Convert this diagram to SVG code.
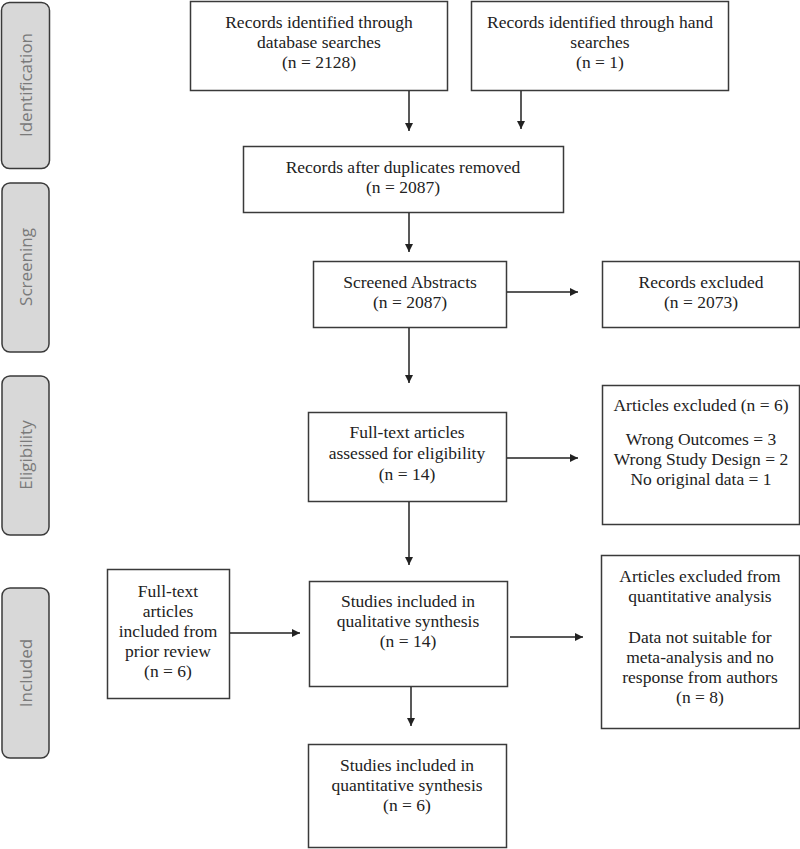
<svg xmlns="http://www.w3.org/2000/svg" width="800" height="849" viewBox="0 0 800 849">
<style>
.box{fill:#fff;stroke:#3a3a3a;stroke-width:1.5}
.side{fill:#d8d8d8;stroke:#3a3a3a;stroke-width:1.5}
.t{font-family:"Liberation Serif","Times New Roman",serif;font-size:17.5px;fill:#222;text-anchor:middle}
.s{font-family:"Open Sans","Noto Sans",sans-serif;font-size:17px;fill:#7a7a7a;text-anchor:middle}
.c{stroke:#222;stroke-width:1.5;fill:none;marker-end:url(#ah)}
</style>
<defs>
<marker id="ah" viewBox="0 0 10 10" refX="10" refY="5" markerWidth="8" markerHeight="8" markerUnits="userSpaceOnUse" orient="auto">
<path d="M0,0 L10,5 L0,10 z" fill="#222"/>
</marker>
</defs>
<rect width="800" height="849" fill="#fff"/>

<g id="side-identification"><rect class="side" x="1.5" y="2.5" width="48" height="166" rx="8"/><text class="s" transform="translate(32,85) rotate(-90)">Identification</text></g>
<g id="side-screening"><rect class="side" x="2" y="183" width="47" height="169" rx="8"/><text class="s" transform="translate(32,267) rotate(-90)">Screening</text></g>
<g id="side-eligibility"><rect class="side" x="2" y="376" width="47" height="159" rx="8"/><text class="s" transform="translate(32,455) rotate(-90)">Eligibility</text></g>
<g id="side-included"><rect class="side" x="2" y="588" width="47" height="170" rx="8"/><text class="s" transform="translate(32,673) rotate(-90)">Included</text></g>

<g id="db"><rect class="box" x="190.5" y="1.5" width="257" height="89"/>
<text class="t" x="319" y="28">Records identified through</text>
<text class="t" x="319" y="48">database searches</text>
<text class="t" x="319" y="68">(n = 2128)</text></g>

<g id="hand"><rect class="box" x="471.5" y="1.5" width="257" height="89"/>
<text class="t" x="600" y="28">Records identified through hand</text>
<text class="t" x="600" y="48">searches</text>
<text class="t" x="600" y="68">(n = 1)</text></g>

<g id="dup"><rect class="box" x="243.5" y="146.5" width="320" height="66"/>
<text class="t" x="403" y="173">Records after duplicates removed</text>
<text class="t" x="403" y="193">(n = 2087)</text></g>

<g id="screened"><rect class="box" x="313.5" y="261.5" width="193" height="66"/>
<text class="t" x="410" y="288">Screened Abstracts</text>
<text class="t" x="410" y="308">(n = 2087)</text></g>

<g id="excluded1"><rect class="box" x="602.5" y="261.5" width="197" height="66"/>
<text class="t" x="701" y="288">Records excluded</text>
<text class="t" x="701" y="308">(n = 2073)</text></g>

<g id="fulltext"><rect class="box" x="308.5" y="412.5" width="198" height="89"/>
<text class="t" x="407" y="438">Full-text articles</text>
<text class="t" x="407" y="459">assessed for eligibility</text>
<text class="t" x="407" y="480">(n = 14)</text></g>

<g id="excluded2"><rect class="box" x="602.5" y="385.5" width="197" height="139"/>
<text class="t" x="701" y="411">Articles excluded (n = 6)</text>
<text class="t" x="701" y="445">Wrong Outcomes = 3</text>
<text class="t" x="701" y="465">Wrong Study Design = 2</text>
<text class="t" x="701" y="485">No original data = 1</text></g>

<g id="prior"><rect class="box" x="107.5" y="569.5" width="122" height="129"/>
<text class="t" x="168" y="597">Full-text</text>
<text class="t" x="168" y="617">articles</text>
<text class="t" x="168" y="637">included from</text>
<text class="t" x="168" y="657">prior review</text>
<text class="t" x="168" y="677">(n = 6)</text></g>

<g id="qual"><rect class="box" x="309.5" y="581.5" width="198" height="105"/>
<text class="t" x="408" y="607">Studies included in</text>
<text class="t" x="408" y="627">qualitative synthesis</text>
<text class="t" x="408" y="647">(n = 14)</text></g>

<g id="excluded3"><rect class="box" x="601.5" y="555.5" width="198" height="173"/>
<text class="t" x="700" y="582">Articles excluded from</text>
<text class="t" x="700" y="602">quantitative analysis</text>
<text class="t" x="700" y="643">Data not suitable for</text>
<text class="t" x="700" y="663">meta-analysis and no</text>
<text class="t" x="700" y="683">response from authors</text>
<text class="t" x="700" y="703">(n = 8)</text></g>

<g id="quant"><rect class="box" x="308.5" y="744.5" width="198" height="103"/>
<text class="t" x="407" y="771">Studies included in</text>
<text class="t" x="407" y="791">quantitative synthesis</text>
<text class="t" x="407" y="811">(n = 6)</text></g>

<g id="connectors">
<line class="c" x1="409" y1="91" x2="409" y2="131"/>
<line class="c" x1="521" y1="91" x2="521" y2="129"/>
<line class="c" x1="409" y1="213" x2="409" y2="252"/>
<line class="c" x1="507" y1="292" x2="578" y2="292"/>
<line class="c" x1="409" y1="328" x2="409" y2="383"/>
<line class="c" x1="507" y1="458" x2="578" y2="458"/>
<line class="c" x1="409" y1="502" x2="409" y2="565"/>
<line class="c" x1="230" y1="633" x2="300" y2="633"/>
<line class="c" x1="510" y1="637" x2="583" y2="637"/>
<line class="c" x1="411" y1="687" x2="411" y2="726"/>
</g>
</svg>
